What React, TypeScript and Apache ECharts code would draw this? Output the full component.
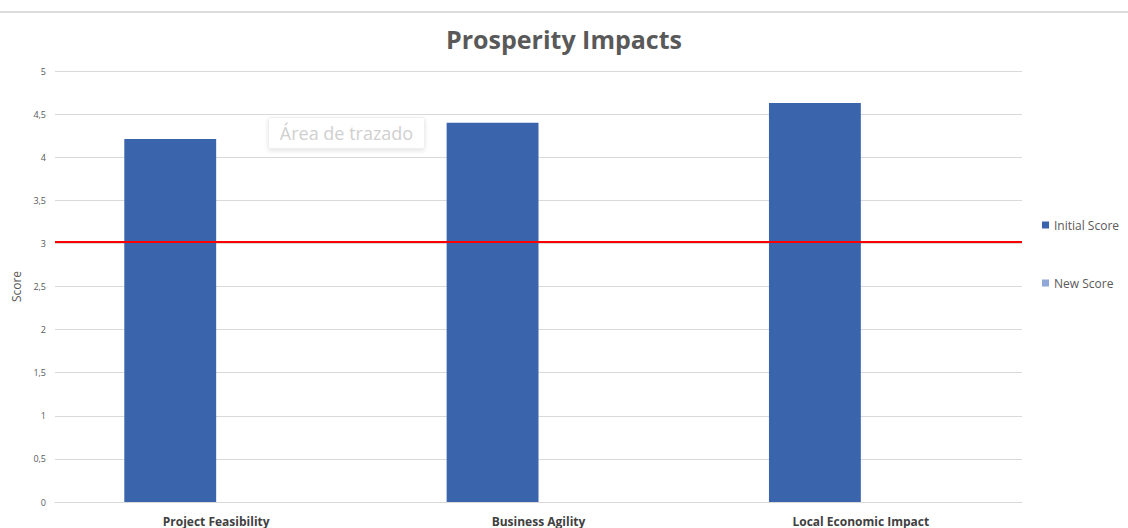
import React, { useEffect, useRef } from "react";
import * as echarts from "echarts";

const categories = ["Project Feasibility", "Business Agility", "Local Economic Impact"];
const initialScore = [4.21, 4.4, 4.63];
const newScore: (number | null)[] = [null, null, null];
const thresholdValue = 3.02;
const yTicks = { min: 0, max: 5, interval: 0.5 };

export default function App() {
  const ref = useRef<HTMLDivElement>(null);
  useEffect(() => {
    if (!ref.current) return;
    const chart = echarts.init(ref.current, undefined, { renderer: "svg" });
    const font = "'Open Sans', 'Noto Sans', sans-serif";
    chart.setOption({
      animation: false,
      backgroundColor: "#ffffff",
      textStyle: { fontFamily: font },
      title: {
        text: "Prosperity Impacts",
        left: "center",
        top: 21,
        textStyle: { fontSize: 25, fontWeight: "bold", color: "#595959", fontFamily: font },
      },
      legend: {
        orient: "vertical",
        left: 1037,
        top: 214,
        itemGap: 46,
        itemWidth: 7,
        itemHeight: 7,
        icon: "rect",
        textStyle: { fontSize: 12, color: "#595959", fontFamily: font },
        data: ["Initial Score", "New Score"],
      },
      grid: { left: 55, right: 106, top: 71, bottom: 26, containLabel: false },
      xAxis: {
        type: "category",
        data: categories,
        axisLine: { lineStyle: { color: "#d9d9d9" } },
        axisTick: { show: false },
        axisLabel: { fontSize: 12, fontWeight: "bold", color: "#404040", margin: 13, fontFamily: font },
      },
      yAxis: {
        type: "value",
        min: yTicks.min,
        max: yTicks.max,
        interval: yTicks.interval,
        name: "Score",
        nameLocation: "middle",
        nameGap: 30,
        nameRotate: 90,
        nameTextStyle: { fontSize: 12, color: "#595959", fontFamily: font },
        axisLine: { show: false },
        axisTick: { show: false },
        splitLine: { lineStyle: { color: "#d9d9d9", width: 1 } },
        axisLabel: {
          fontSize: 9,
          color: "#595959",
          margin: 9,
          formatter: (v: number) => String(v).replace(".", ","),
        },
      },
      series: [
        {
          name: "Initial Score",
          type: "bar",
          data: initialScore,
          barGap: "0%",
          barCategoryGap: "43%",
          itemStyle: { color: "#3a64ac" },
          markLine: {
            silent: true,
            symbol: "none",
            label: { show: false },
            lineStyle: { color: "#ff0000", width: 2.2, type: "solid" },
            data: [{ yAxis: thresholdValue }],
          },
        },
        {
          name: "New Score",
          type: "bar",
          data: newScore,
          itemStyle: { color: "#8fa8d8" },
        },
      ],
      graphic: [
        {
          type: "rect",
          shape: { x: 0, y: 11, width: 1128, height: 2 },
          style: { fill: "#dcdcdc" },
          silent: true,
        },
        {
          type: "group",
          left: 268,
          top: 117,
          children: [
            {
              type: "rect",
              shape: { x: 0, y: 0, width: 156, height: 31, r: 2 },
              style: {
                fill: "#ffffff",
                stroke: "#efefef",
                lineWidth: 1,
                shadowBlur: 4,
                shadowColor: "rgba(0,0,0,0.10)",
                shadowOffsetY: 2,
              },
            },
            {
              type: "text",
              x: 78,
              y: 15.5,
              style: {
                text: "Área de trazado",
                fontSize: 18,
                fill: "#d0d0d0",
                fontFamily: font,
                align: "center",
                verticalAlign: "middle",
              },
            },
          ],
        },
      ],
    });
    return () => chart.dispose();
  }, []);
  return <div ref={ref} style={{ width: 1128, height: 528, position: "absolute", left: 0, top: 0 }} />;
}
